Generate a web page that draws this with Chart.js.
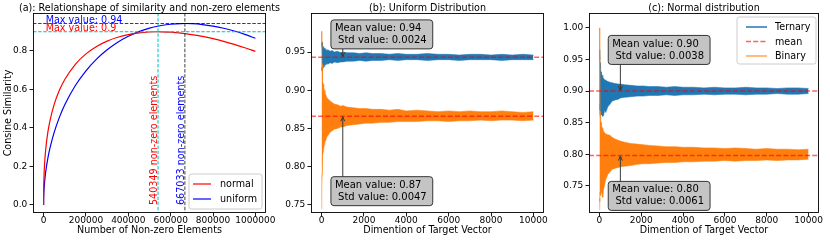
<!DOCTYPE html>
<html><head><meta charset="utf-8">
<script src="https://cdn.jsdelivr.net/npm/chart.js@4.4.1/dist/chart.umd.min.js"></script>
<style>
html,body{margin:0;padding:0;background:#fff;overflow:hidden}
body{width:830px;height:242px;position:relative}
canvas{position:absolute;top:0}
</style></head><body>
<canvas id="ca" width="280" height="242" style="left:0"></canvas>
<canvas id="cb" width="275" height="242" style="left:280px"></canvas>
<canvas id="cc" width="280" height="242" style="left:550px"></canvas>
<script>
// ================= DATA =================
// Panel (a): similarity vs number of non-zero elements
const nonZeroCount = [0,100,1000,3000,5000,10000,20000,30000,50000,75000,100000,150000,200000,250000,300000,350000,400000,450000,500000,540349,550000,600000,650000,667033,700000,750000,800000,850000,900000,950000,1000000];
const simNormal  = [0,0.0412,0.1124,0.1782,0.2195,0.2892,0.3769,0.4373,0.5226,0.5971,0.6523,0.7311,0.7850,0.8235,0.8514,0.8714,0.8853,0.8942,0.8988,0.9000,0.8998,0.8977,0.8928,0.8904,0.8855,0.8757,0.8639,0.8501,0.8344,0.8170,0.7979];
const simUniform = [0,0.0173,0.0547,0.0947,0.1222,0.1723,0.2425,0.2955,0.3776,0.4565,0.5203,0.6205,0.6971,0.7578,0.8064,0.8454,0.8763,0.9004,0.9186,0.9292,0.9313,0.9391,0.9426,0.9428,0.9419,0.9375,0.9295,0.9182,0.9037,0.8863,0.8660];
const peakX = [540349, 667033];      // normal, uniform
const peakY = [0.9000, 0.9428];
const xTicksA = [0,200000,400000,600000,800000,1000000];
const yTicksA = [0,0.2,0.4,0.6,0.8];

// Panels (b),(c): envelope of the noisy similarity curves vs dimension
const dims = [0,10,20,30,45,60,80,100,130,160,200,250,300,400,500,600,750,900,1000,1200,1500,1800,2100,2400,2800,3200,3600,4000,4500,5000,5500,6000,6500,7000,7500,8000,8500,9000,9500,10000];
const uniTernUp = [0.962,0.958,0.963,0.957,0.960,0.955,0.957,0.954,0.955,0.953,0.954,0.952,0.953,0.951,0.952,0.950,0.951,0.949,0.950,0.949,0.949,0.948,0.949,0.948,0.948,0.947,0.948,0.947,0.947,0.948,0.947,0.947,0.946,0.947,0.947,0.946,0.947,0.946,0.947,0.946];
const uniTernLo = [0.926,0.930,0.925,0.931,0.927,0.932,0.929,0.933,0.931,0.934,0.933,0.935,0.934,0.936,0.935,0.937,0.936,0.937,0.937,0.938,0.938,0.939,0.938,0.939,0.939,0.940,0.939,0.940,0.940,0.939,0.940,0.940,0.939,0.940,0.940,0.940,0.939,0.940,0.940,0.940];
const uniBinUp  = [0.977,0.955,0.935,0.925,0.918,0.912,0.908,0.904,0.900,0.896,0.894,0.890,0.889,0.886,0.884,0.882,0.881,0.879,0.880,0.878,0.877,0.876,0.876,0.875,0.875,0.874,0.875,0.873,0.874,0.873,0.872,0.873,0.872,0.873,0.872,0.872,0.873,0.872,0.871,0.872];
const uniBinLo  = [0.745,0.770,0.790,0.800,0.808,0.815,0.820,0.824,0.828,0.832,0.835,0.839,0.841,0.845,0.847,0.849,0.850,0.852,0.852,0.854,0.855,0.856,0.857,0.857,0.858,0.858,0.859,0.859,0.859,0.860,0.860,0.859,0.860,0.860,0.861,0.860,0.861,0.861,0.860,0.861];
const norTernUp = [0.965,0.950,0.958,0.945,0.940,0.935,0.930,0.927,0.925,0.922,0.920,0.918,0.917,0.915,0.914,0.913,0.912,0.911,0.911,0.910,0.909,0.908,0.908,0.907,0.907,0.906,0.907,0.906,0.906,0.905,0.906,0.905,0.905,0.906,0.905,0.905,0.904,0.905,0.905,0.904];
const norTernLo = [0.880,0.870,0.875,0.862,0.866,0.868,0.870,0.862,0.872,0.860,0.862,0.870,0.866,0.875,0.879,0.884,0.886,0.887,0.889,0.890,0.891,0.892,0.892,0.893,0.893,0.894,0.893,0.894,0.894,0.895,0.894,0.895,0.895,0.894,0.895,0.895,0.896,0.895,0.895,0.896];
const norBinUp  = [1.000,0.900,0.870,0.862,0.868,0.855,0.850,0.846,0.842,0.840,0.836,0.834,0.832,0.831,0.830,0.827,0.824,0.822,0.821,0.819,0.817,0.816,0.815,0.814,0.813,0.812,0.812,0.811,0.811,0.810,0.810,0.809,0.810,0.809,0.808,0.809,0.808,0.808,0.807,0.808];
const norBinLo  = [0.712,0.730,0.725,0.740,0.745,0.735,0.750,0.740,0.735,0.732,0.745,0.752,0.760,0.768,0.772,0.776,0.778,0.779,0.780,0.781,0.782,0.784,0.785,0.785,0.786,0.787,0.787,0.788,0.788,0.789,0.789,0.790,0.789,0.790,0.790,0.791,0.790,0.791,0.791,0.792];
const uniMeans = [0.943, 0.866];  const uniStds = [0.0024, 0.0047];
const norMeans = [0.900, 0.798];  const norStds = [0.0038, 0.0061];
const xTicksBC = [0,2000,4000,6000,8000,10000];
const yTicksB = [0.75,0.80,0.85,0.90,0.95];
const yTicksC = [0.75,0.80,0.85,0.90,0.95,1.00];
const seriesNames = ['Ternary','mean','Binary'];

// ================= STYLE / HELPERS =================
const FONT = 'DejaVu Sans';
Chart.defaults.font.family = FONT;
Chart.defaults.color = '#000';
const BLUE = '#1f77b4', ORANGE = '#ff7f0e';
const pts = (xs, ys) => xs.map((x, i) => ({x, y: ys[i]}));

function scaleCfg(o) {
  return {
    type: 'linear', min: o.min, max: o.max,
    grid: {drawOnChartArea: false, drawTicks: true, tickLength: 3.5, tickWidth: 0.9, tickColor: '#000'},
    border: {display: false},
    ticks: {color: '#000', font: {size: 9}, padding: o.horiz ? -1.6 : 2.2, maxRotation: 0, minRotation: 0, autoSkip: false, callback: o.fmt},
    afterBuildTicks: s => { s.ticks = o.ticks.map(v => ({value: v})); },
    afterFit: s => {
      if (o.horiz) s.height = o.size; else s.width = o.size;
      s.paddingLeft = 0; s.paddingRight = 0; s.paddingTop = 0; s.paddingBottom = 0;
    },
    title: o.title ? {display: true, text: o.title, color: '#000', font: {size: 9.6}, padding: o.tpad} : {display: false}
  };
}
function titleCfg(text) {
  return {display: true, text, color: '#000', font: {size: 9.6, weight: 'normal'}, padding: {top: 2.5, bottom: -1.02}, fullSize: false};
}
function widenTitle(chart) {
  const t = chart.titleBlock, ca = chart.chartArea;
  if (t) { t.left = ca.left - 60; t.right = ca.right + 60; t.width = t.right - t.left; }
}
function drawFrame(chart) {
  const {ctx, chartArea: ca} = chart;
  ctx.save();
  ctx.strokeStyle = '#000'; ctx.lineWidth = 0.9; ctx.setLineDash([]);
  ctx.strokeRect(Math.round(ca.left) + 0.5, Math.round(ca.top) + 0.5, Math.round(ca.right) - Math.round(ca.left) - 1, Math.round(ca.bottom) - Math.round(ca.top) - 1);
  ctx.restore();
}
function roundRect(ctx, x, y, w, h, r) {
  ctx.beginPath();
  ctx.moveTo(x + r, y); ctx.lineTo(x + w - r, y); ctx.quadraticCurveTo(x + w, y, x + w, y + r);
  ctx.lineTo(x + w, y + h - r); ctx.quadraticCurveTo(x + w, y + h, x + w - r, y + h);
  ctx.lineTo(x + r, y + h); ctx.quadraticCurveTo(x, y + h, x, y + h - r);
  ctx.lineTo(x, y + r); ctx.quadraticCurveTo(x, y, x + r, y); ctx.closePath();
}
function arrow(ctx, x0, y0, x1, y1) {
  ctx.beginPath(); ctx.moveTo(x0, y0); ctx.lineTo(x1, y1); ctx.stroke();
  const a = Math.atan2(y1 - y0, x1 - x0), L = 5, w = 0.42;
  ctx.beginPath();
  ctx.moveTo(x1 - L * Math.cos(a - w), y1 - L * Math.sin(a - w));
  ctx.lineTo(x1, y1);
  ctx.lineTo(x1 - L * Math.cos(a + w), y1 - L * Math.sin(a + w));
  ctx.stroke();
}
function drawLegend(ctx, left, top, w, h, items) {
  ctx.save();
  roundRect(ctx, left, top, w, h, 2.5);
  ctx.fillStyle = 'rgba(255,255,255,0.85)'; ctx.fill();
  ctx.strokeStyle = '#cccccc'; ctx.lineWidth = 1; ctx.stroke();
  ctx.font = '9.6px "' + FONT + '"'; ctx.textBaseline = 'middle'; ctx.textAlign = 'left';
  items.forEach(it => {
    ctx.strokeStyle = it.color; ctx.lineWidth = it.lw; ctx.setLineDash(it.dash || []);
    ctx.beginPath(); ctx.moveTo(left + it.l0, top + it.dy); ctx.lineTo(left + it.l1, top + it.dy); ctx.stroke();
    ctx.setLineDash([]);
    ctx.fillStyle = '#000'; ctx.fillText(it.text, left + it.tx, top + it.dy + 0.5);
  });
  ctx.restore();
}

// ================= PANEL (a) =================
const plugA = {
  id: 'plugA',
  afterLayout: widenTitle,
  afterDatasetsDraw(chart) {
    const {ctx, chartArea: ca, scales: {x, y}} = chart;
    ctx.save();
    ctx.beginPath(); ctx.rect(ca.left, ca.top, ca.width, ca.height); ctx.clip();
    ctx.lineWidth = 1; ctx.setLineDash([3.5, 1.6]);
    const hline = (v, c) => { const p = y.getPixelForValue(v); ctx.strokeStyle = c; ctx.beginPath(); ctx.moveTo(ca.left, p); ctx.lineTo(ca.right, p); ctx.stroke(); };
    const vline = (v, c) => { const p = x.getPixelForValue(v); ctx.strokeStyle = c; ctx.beginPath(); ctx.moveTo(p, ca.top); ctx.lineTo(p, ca.bottom); ctx.stroke(); };
    hline(peakY[1], 'rgba(0,0,0,0.75)');
    hline(peakY[0], '#00bfbf');
    vline(peakX[0], '#00bfbf');
    vline(peakX[1], 'rgba(0,0,0,0.75)');
    ctx.setLineDash([]);
    ctx.font = '9.6px "' + FONT + '"'; ctx.textAlign = 'left'; ctx.textBaseline = 'alphabetic';
    const tx = x.getPixelForValue(10000);
    ctx.fillStyle = '#0000ff'; ctx.fillText('Max value: ' + Math.round(peakY[1] * 100) / 100, tx, y.getPixelForValue(peakY[1]) - 0.5);
    ctx.fillStyle = '#ff0000'; ctx.fillText('Max value: ' + Math.round(peakY[0] * 100) / 100, tx, y.getPixelForValue(peakY[0]) - 0.5);
    const cols = ['#ff0000', '#0000ff'];
    [0, 1].forEach(i => {
      ctx.save();
      ctx.translate(x.getPixelForValue(peakX[i]) - 1, y.getPixelForValue(0));
      ctx.rotate(-Math.PI / 2);
      ctx.fillStyle = cols[i];
      ctx.fillText(peakX[i] + ' non-zero elements', 0, 0);
      ctx.restore();
    });
    ctx.restore();
  },
  afterDraw(chart) {
    const {ctx, chartArea: ca} = chart;
    drawFrame(chart);
    const w = 73, h = 35;
    drawLegend(ctx, ca.right - 4 - w, ca.bottom - 4 - h, w, h, [
      {text: 'normal', color: '#ff0000', lw: 1.2, l0: 4, l1: 22, tx: 31, dy: 10},
      {text: 'uniform', color: '#0000ff', lw: 1.2, l0: 4, l1: 22, tx: 31, dy: 25}
    ]);
  }
};

new Chart(document.getElementById('ca'), {
  type: 'line',
  data: {
    datasets: [
      {label: 'normal', data: pts(nonZeroCount, simNormal), borderColor: '#ff0000', borderWidth: 1.2, pointRadius: 0, cubicInterpolationMode: 'monotone', fill: false},
      {label: 'uniform', data: pts(nonZeroCount, simUniform), borderColor: '#0000ff', borderWidth: 1.2, pointRadius: 0, cubicInterpolationMode: 'monotone', fill: false}
    ]
  },
  options: {
    responsive: false, animation: false, events: [],
    layout: {padding: {left: 0, right: 14, top: 0, bottom: 0}},
    plugins: {legend: {display: false}, tooltip: {enabled: false}, title: titleCfg('(a): Relationshape of similarity and non-zero elements')},
    scales: {
      x: scaleCfg({min: -50000, max: 1050000, ticks: xTicksA, fmt: v => String(v), horiz: true, size: 29, title: 'Number of Non-zero Elements', tpad: {top: 0, bottom: 6.2}}),
      y: scaleCfg({min: -0.0416, max: 0.9974, ticks: yTicksA, fmt: v => v.toFixed(1), horiz: false, size: 33, title: 'Consine Similarity', tpad: {top: 2.3, bottom: 0}})
    }
  },
  plugins: [plugA]
});

// ================= PANELS (b),(c) =================
function bandPlugin(o) {
  return {
    id: 'band' + o.id,
    afterLayout: widenTitle,
    afterDatasetsDraw(chart) {
      const {ctx, chartArea: ca, scales: {x, y}} = chart;
      ctx.save();
      ctx.strokeStyle = 'rgba(255,0,0,0.62)'; ctx.lineWidth = 1.5; ctx.setLineDash([5, 2.2]);
      o.means.forEach(m => { const p = y.getPixelForValue(m); ctx.beginPath(); ctx.moveTo(ca.left, p); ctx.lineTo(ca.right, p); ctx.stroke(); });
      ctx.setLineDash([]);
      ctx.font = '10px "' + FONT + '"';
      o.means.forEach((m, i) => {
        const l1 = 'Mean value: ' + m.toFixed(2), l2 = ' Std value: ' + o.stds[i].toFixed(4);
        const bw = Math.max(ctx.measureText(l1).width, ctx.measureText(l2).width) + 10;
        const bh = 29;
        const bx = x.getPixelForValue(o.boxX), by = y.getPixelForValue(o.boxY[i]);
        const tx = x.getPixelForValue(o.arrowX), ty = y.getPixelForValue(m);
        ctx.strokeStyle = '#3a3a3a'; ctx.lineWidth = 1;
        if (by > ty) arrow(ctx, tx, by, tx, ty + 0.5); else arrow(ctx, tx, by + bh, tx, ty - 0.5);
        roundRect(ctx, bx, by, bw, bh, 3);
        ctx.fillStyle = '#c4c4c4'; ctx.fill();
        ctx.strokeStyle = '#222'; ctx.lineWidth = 0.9; ctx.stroke();
        ctx.fillStyle = '#000'; ctx.textAlign = 'left'; ctx.textBaseline = 'middle';
        ctx.fillText(l1, bx + 4, by + 8.5);
        ctx.fillText(l2, bx + 4, by + 20.5);
      });
      ctx.restore();
    },
    afterDraw(chart) {
      drawFrame(chart);
      if (o.legend) {
        const ca = chart.chartArea, w = 79, h = 47;
        drawLegend(chart.ctx, ca.right - 3 - w, ca.top + 4, w, h, [
          {text: seriesNames[0], color: BLUE, lw: 1.5, l0: 9, l1: 30, tx: 38, dy: 10},
          {text: seriesNames[1], color: 'rgba(255,0,0,0.62)', lw: 1.5, dash: [5, 2.2], l0: 9, l1: 30, tx: 38, dy: 24.5},
          {text: seriesNames[2], color: 'rgba(255,127,14,0.7)', lw: 1.5, l0: 9, l1: 30, tx: 38, dy: 39}
        ]);
      }
    }
  };
}

function bandChart(id, cfg) {
  const band = (up, lo, col, edge) => [
    {data: pts(dims, up), borderColor: edge, borderWidth: 1, backgroundColor: col, pointRadius: 0, tension: 0, fill: '+1'},
    {data: pts(dims, lo), borderColor: edge, borderWidth: 1, pointRadius: 0, tension: 0, fill: false}
  ];
  new Chart(document.getElementById(id), {
    type: 'line',
    data: {datasets: [
      ...band(cfg.binUp, cfg.binLo, ORANGE, 'rgba(255,127,14,0.55)'),
      ...band(cfg.ternUp, cfg.ternLo, BLUE, 'rgba(31,119,180,0.55)')
    ]},
    options: {
      responsive: false, animation: false, events: [],
      layout: {padding: {left: 0, right: cfg.rightPad, top: 0, bottom: 0}},
      plugins: {legend: {display: false}, tooltip: {enabled: false}, title: titleCfg(cfg.title)},
      scales: {
        x: scaleCfg({min: -500, max: 10500, ticks: xTicksBC, fmt: v => String(v), horiz: true, size: 29, title: 'Dimention of Target Vector', tpad: {top: 0, bottom: 6.2}}),
        y: scaleCfg({min: cfg.ymin, max: cfg.ymax, ticks: cfg.yTicks, fmt: v => v.toFixed(2), horiz: false, size: cfg.ySize})
      }
    },
    plugins: [bandPlugin(cfg.plug)]
  });
}

bandChart('cb', {
  title: '(b): Uniform Distribution', ternUp: uniTernUp, ternLo: uniTernLo, binUp: uniBinUp, binLo: uniBinLo,
  ymin: 0.7395, ymax: 1.001, yTicks: yTicksB, ySize: 31, rightPad: 11,
  plug: {id: 'b', means: uniMeans, stds: uniStds, arrowX: 1000, boxX: 440, boxY: [0.992, 0.787], legend: false}
});
bandChart('cc', {
  title: '(c): Normal distribution', ternUp: norTernUp, ternLo: norTernLo, binUp: norBinUp, binLo: norBinLo,
  ymin: 0.707, ymax: 1.0235, yTicks: yTicksC, ySize: 39, rightPad: 11,
  plug: {id: 'c', means: norMeans, stds: norStds, arrowX: 1000, boxX: 420, boxY: [0.988, 0.757], legend: true}
});
</script>
</body></html>
